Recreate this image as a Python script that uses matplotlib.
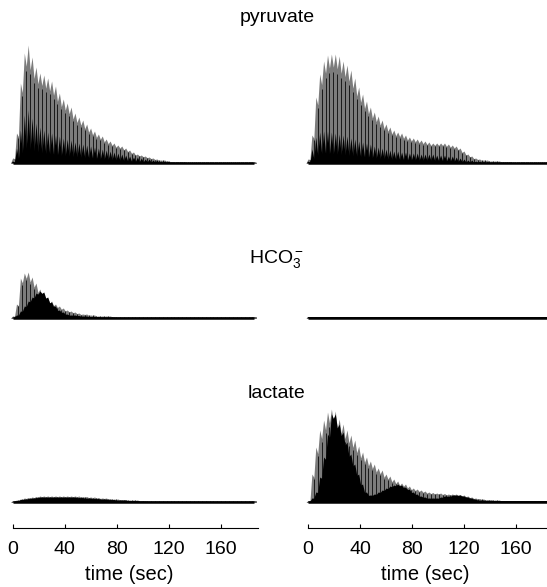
import numpy as np
import matplotlib
matplotlib.use('Agg')
import matplotlib.pyplot as plt

plt.rcParams['font.family'] = ['Liberation Sans', 'DejaVu Sans']
plt.rcParams['mathtext.fontset'] = 'custom'
plt.rcParams['mathtext.rm'] = 'Liberation Sans'
plt.rcParams['mathtext.it'] = 'Liberation Sans:italic'

# ---------------- data ----------------
DT = 3.0  # seconds between spectra
metabolites = ['pyruvate', 'HCO$_3^-$', 'lactate']
xticks = [0, 40, 80, 120, 160]
xlabel = 'time (sec)'

# left column
pyr_left_env = [5, 30, 80, 110, 118, 106, 96, 90, 88, 85, 82, 77, 70, 64, 60, 56, 50, 46, 43, 39,
                35, 32, 29, 27, 24, 22, 20, 18, 17, 15, 13, 11, 9, 8, 7, 6, 5, 4, 3, 3,
                2, 1.5, 1.5, 1.5, 1.5, 1, 1, 1, 1, 1, 1, 1, 1, 1, 1, 1, 1, 1, 1, 1,
                1, 1, 1]
pyr_left_dark = [2, 15, 33, 48, 53, 45, 40, 36, 33, 31, 30, 28, 27, 25, 24, 23, 21, 20, 19, 18,
                 17, 16, 15, 14, 13, 12, 11, 10, 9, 8, 7, 6, 6, 5, 4, 4, 3, 3, 2, 2,
                 2, 1, 1, 1, 1, 1, 1, 1, 1, 1, 1, 1, 1, 1, 1, 1, 1, 1, 1, 1,
                 1, 1, 1]
hco3_left_env = [2, 14, 40, 45, 46, 41, 35, 29, 24, 20, 17, 14, 12, 10, 8, 7, 6, 5, 4, 4,
                 3, 3, 2, 2, 2, 2, 1.5, 1, 1, 1, 1, 1, 1, 1, 1, 1, 1, 1, 1, 1,
                 1, 1, 1, 1, 1, 1, 1, 1, 1, 1, 1, 1, 1, 1, 1, 1, 1, 1, 1, 1,
                 1, 1, 1]
hco3_left_dark = [1, 3, 7, 12, 17, 21, 25, 27, 26, 21, 16, 12, 8, 6, 4, 3, 3, 2.5, 2, 2,
                  1.5, 1.5, 1.5, 1, 1, 1, 1, 1, 1, 1, 1, 1, 1, 1, 1, 1, 1, 1, 1, 1,
                  1, 1, 1, 1, 1, 1, 1, 1, 1, 1, 1, 1, 1, 1, 1, 1, 1, 1, 1, 1,
                  1, 1, 1]
lac_left_env = [1, 2, 3, 4, 4.5, 5, 5.5, 6, 6, 6, 6, 6, 6, 6, 6, 6, 6, 6, 5.5, 5.5,
                5, 5, 4.5, 4, 4, 3.5, 3, 3, 2.5, 2.5, 2, 2, 2, 1.5, 1.5, 1, 1, 1, 1, 1,
                1, 1, 1, 1, 1, 1, 1, 1, 1, 1, 1, 1, 1, 1, 1, 1, 1, 1, 1, 1,
                1, 1, 1]
lac_left_dark = [1, 1.5, 2.5, 3, 3.5, 4, 4.5, 5, 5, 5, 5, 5, 5, 5, 5, 5, 5, 4.5, 4.5, 4,
                 4, 3.5, 3.5, 3, 3, 2.5, 2.5, 2, 2, 2, 1.5, 1.5, 1.5, 1, 1, 1, 1, 1, 1, 1,
                 1, 1, 1, 1, 1, 1, 1, 1, 1, 1, 1, 1, 1, 1, 1, 1, 1, 1, 1, 1,
                 1, 1, 1]

# right column
pyr_right_env = [4, 28, 66, 89, 102, 108, 109, 109, 107, 102, 98, 93, 85, 76, 69, 62, 56, 51, 47, 43,
                 39, 36, 33, 31, 30, 28, 26, 25, 24, 23, 22, 21, 20, 20, 20, 20, 19, 18, 17, 15,
                 12, 9, 7, 5, 4, 3, 3, 2, 2, 2, 1.5, 1.5, 1.5, 1, 1, 1, 1, 1, 1, 1,
                 1, 1, 1]
pyr_right_dark = [2, 14, 26, 31, 32, 32, 31, 30, 29, 28, 27, 25, 24, 22, 21, 20, 19, 17, 16, 15,
                  14, 13, 12, 12, 11, 11, 10, 10, 10, 9, 9, 9, 9, 8, 8, 8, 7, 7, 6, 5,
                  4, 3, 3, 2, 2, 1.5, 1.5, 1, 1, 1, 1, 1, 1, 1, 1, 1, 1, 1, 1, 1,
                  1, 1, 1]
hco3_right_env = [1.5, 1.5, 1.5, 1.5, 1.5, 1.5, 1.5, 1.5, 1.5, 1.5, 1.5, 1.5, 1.5, 1.5, 1.5, 1.5,
                  1.5, 1.5, 1.5, 1.5, 1.5, 1.5, 1.5, 1.5, 1.5, 1.5, 1.5, 1.5, 1.5, 1.5, 1.5, 1.5,
                  1.5, 1.5, 1.5, 1.5, 1.5, 1.5, 1.5, 1.5, 1.5, 1.5, 1.5, 1.5, 1.5, 1.5, 1.5, 1.5,
                  1.5, 1.5, 1.5, 1.5, 1.5, 1.5, 1.5, 1.5, 1.5, 1.5, 1.5, 1.5, 1.5, 1.5, 1.5]
hco3_right_dark = [1.5, 1.5, 1.5, 1.5, 1.5, 1.5, 1.5, 1.5, 1.5, 1.5, 1.5, 1.5, 1.5, 1.5, 1.5, 1.5,
                   1.5, 1.5, 1.5, 1.5, 1.5, 1.5, 1.5, 1.5, 1.5, 1.5, 1.5, 1.5, 1.5, 1.5, 1.5, 1.5,
                   1.5, 1.5, 1.5, 1.5, 1.5, 1.5, 1.5, 1.5, 1.5, 1.5, 1.5, 1.5, 1.5, 1.5, 1.5, 1.5,
                   1.5, 1.5, 1.5, 1.5, 1.5, 1.5, 1.5, 1.5, 1.5, 1.5, 1.5, 1.5, 1.5, 1.5, 1.5]
lac_right_env = [1, 28, 55, 72, 82, 90, 93, 91, 83, 78, 72, 67, 62, 56, 50, 45, 41, 38, 34, 32,
                 28, 26, 23, 21, 19, 18, 16, 14, 13, 12, 11, 10, 9.5, 9, 9, 8.5, 8, 8, 8, 7.5,
                 7, 6, 5, 4, 3.5, 3, 2.5, 2.5, 2, 2, 1.5, 1.5, 1.5, 1.5, 1.5, 1.5, 1.5, 1.5, 1.5, 1.5,
                 1.5, 1.5, 1.5]
lac_right_dark = [1, 4, 10, 25, 45, 68, 88, 88, 78, 70, 60, 48, 38, 28, 18, 10, 7, 8, 10, 12,
                  14, 16, 17, 18, 17, 15, 13, 10, 8, 6, 5, 4, 4, 4, 5, 6, 6, 7, 7, 7,
                  6, 5, 4, 3, 2, 2, 1.5, 1.5, 1.5, 1.5, 1.5, 1.5, 1.5, 1.5, 1.5, 1.5, 1.5, 1.5, 1.5, 1.5,
                  1.5, 1.5, 1.5]

rows = [
    (pyr_left_env, pyr_left_dark, pyr_right_env, pyr_right_dark, 0.3),
    (hco3_left_env, hco3_left_dark, hco3_right_env, hco3_right_dark, 0.95),
    (lac_left_env, lac_left_dark, lac_right_env, lac_right_dark, 0.95),
]

# ---------------- layout (pixels) ----------------
W, H = 547, 587
fig = plt.figure(figsize=(W / 100, H / 100), dpi=100)

PXS = 1.3  # pixels per second
cols = [dict(t0=12.6, l=8, r=262, end=189.0),
        dict(t0=308.0, l=303, r=547, end=183.8)]
baselines = [163, 318, 502]
title_base = [22, 263, 398]
TITLE_X = 277


def add_ax(l, top, w, h):
    return fig.add_axes([l / W, 1 - (top + h) / H, w / W, h / H])


def xlim_of(c):
    return ((c['l'] - c['t0']) / PXS, (c['r'] - c['t0']) / PXS)


def teeth(t, v, frac):
    """interleave peaks at t with valleys half-way between them"""
    xx = np.empty(2 * len(t) + 1)
    yy = np.empty_like(xx)
    xx[1:-1:2] = t
    yy[1:-1:2] = v
    xx[2:-1:2] = t[:-1] + DT / 2
    yy[2:-1:2] = frac * np.minimum(v[:-1], v[1:])
    xx[0] = t[0] - DT / 2
    yy[0] = 0
    xx[-1] = t[-1] + DT / 2
    yy[-1] = frac * v[-1]
    return xx, yy


def draw(ax, env, dark, tooth):
    env = np.asarray(env, float)
    dark = np.asarray(dark, float)
    t = np.arange(len(env)) * DT
    gx, gy = teeth(t, env, 0.88)
    ax.fill_between(gx, 0, gy, color='#7c7c7c', lw=0)
    ax.vlines(gx[2:-1:2], 0, 0.95 * gy[2:-1:2], color='black', lw=0.55)
    dx, dy = teeth(t, dark, tooth)
    ax.fill_between(dx, 0, dy, color='black', lw=0)
    ax.plot([t[0], t[-1]], [0, 0], color='black', lw=1.8, solid_capstyle='butt')


for r, (le, ld, re_, rd, tooth) in enumerate(rows):
    b = baselines[r]
    for c, (env, dark) in zip(cols, [(le, ld), (re_, rd)]):
        ax = add_ax(c['l'], b - 126, c['r'] - c['l'], 130)
        ax.set_xlim(*xlim_of(c))
        ax.set_ylim(-4, 126)
        ax.axis('off')
        ax.patch.set_alpha(0)
        draw(ax, env, dark, tooth)
    fig.text(TITLE_X / W, 1 - title_base[r] / H, metabolites[r], ha='center',
             va='baseline', fontsize=14)

# bottom time axes
AX_Y = 528
for c in cols:
    ax = add_ax(c['l'], AX_Y - 10, c['r'] - c['l'], 10)
    ax.set_xlim(*xlim_of(c))
    ax.set_ylim(0, 1)
    ax.patch.set_alpha(0)
    for s in ['top', 'left', 'right']:
        ax.spines[s].set_visible(False)
    ax.spines['bottom'].set_bounds(0, c['end'])
    ax.spines['bottom'].set_linewidth(0.8)
    ax.set_yticks([])
    ax.set_xticks(xticks)
    ax.set_xticklabels([str(v) for v in xticks])
    ax.tick_params(axis='x', direction='in', length=3, width=0.8, labelsize=14, pad=9)
    xc = c['t0'] + 90 * PXS
    fig.text(xc / W, 1 - 575 / H, xlabel, ha='center', va='center', fontsize=14.5)

fig.savefig('out.png', dpi=100)
